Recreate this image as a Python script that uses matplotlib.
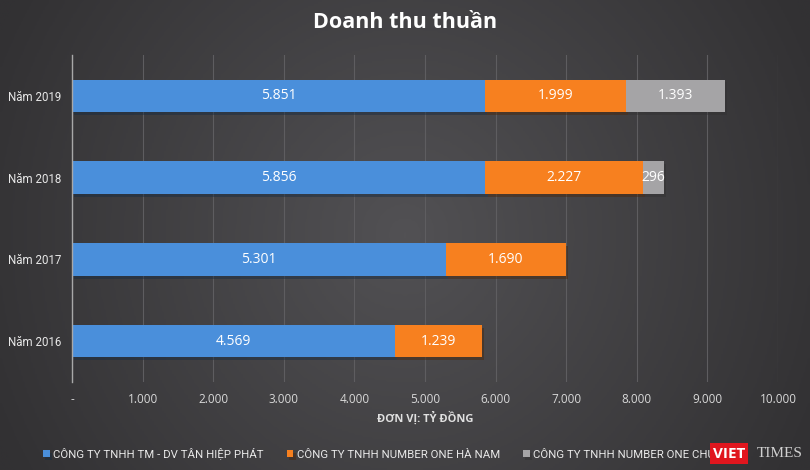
import numpy as np
import matplotlib
matplotlib.use("Agg")
import matplotlib.pyplot as plt
import matplotlib.patheffects as pe

years = ["Năm 2016", "Năm 2017", "Năm 2018", "Năm 2019"]
tan_hiep_phat = [4569, 5301, 5856, 5851]
ha_nam = [1239, 1690, 2227, 1999]
chu_lai = [0, 0, 296, 1393]
series_names = ["CÔNG TY TNHH TM - DV TÂN HIỆP PHÁT",
                "CÔNG TY TNHH NUMBER ONE HÀ NAM",
                "CÔNG TY TNHH NUMBER ONE CHU LAI"]
colors = ["#4a8fdb", "#f7801f", "#a5a4a6"]
xticks = list(range(0, 10001, 1000))
xticklabels = ["-"] + ["{:,}".format(v).replace(",", ".") for v in xticks[1:]]

plt.rcParams['font.family'] = ['Open Sans', 'DejaVu Sans']

fig = plt.figure(figsize=(8.1, 4.7), dpi=100)

# background gradient
bg = fig.add_axes([0, 0, 1, 1], zorder=-10)
xx = np.linspace(-1, 1, 400)
yy = np.linspace(-1, 1, 240)
X, Y = np.meshgrid(xx, yy)
g = 1 - np.clip(np.sqrt((X * 0.9) ** 2 + (Y * 0.5) ** 2), 0, 1)
bg.imshow(g, cmap=matplotlib.colors.LinearSegmentedColormap.from_list(
    "bg", ["#323133", "#525154"]), aspect="auto", extent=[0, 1, 0, 1])
bg.axis("off")

ax = fig.add_axes([72 / 810, 1 - 382 / 470, 706 / 810, 327 / 470])
ax.patch.set_alpha(0)
y = np.arange(len(years))
h = 0.4
shadow = [pe.SimplePatchShadow(offset=(1.5, -2), alpha=0.45), pe.Normal()]

left = np.zeros(len(years))
for vals, col, name in zip([tan_hiep_phat, ha_nam, chu_lai], colors, series_names):
    vals = np.array(vals)
    ax.barh(y, vals, height=h, left=left, color=col, label=name,
            zorder=3, path_effects=shadow)
    for yi, v, l in zip(y, vals, left):
        if v > 0:
            ax.text(l + v / 2, yi, "{:,}".format(v).replace(",", "."),
                    ha="center", va="center", color="white", fontsize=10,
                    zorder=5)
    left = left + vals

ax.set_xlim(0, 10000)
ax.set_ylim(-0.5, len(years) - 0.5)
ax.set_xticks(xticks)
ax.set_xticklabels(xticklabels, color="#d8d8d8", fontsize=8.5)
ax.set_yticks(y)
ax.set_yticklabels(years, color="#e8e8e8", fontsize=8.3, family=['Roboto', 'DejaVu Sans'])
ax.tick_params(length=0, pad=8)
ax.tick_params(axis="y", pad=8)
ax.grid(axis="x", color="#5e5d60", linewidth=0.8, zorder=0)
for s in ["top", "right", "bottom"]:
    ax.spines[s].set_visible(False)
ax.spines["left"].set_color("#a8a8a8")
ax.spines["left"].set_linewidth(1)
ax.spines["left"].set_zorder(4)
ax.set_xlabel("ĐƠN VỊ: TỶ ĐỒNG", color="#e0e0e0", fontsize=8,
              fontweight="bold", labelpad=4)

fig.text(0.5, 0.953, "Doanh thu thuần", ha="center", va="center",
         color="white", fontsize=15.5, fontweight="bold")

handles, labels = ax.get_legend_handles_labels()
leg = fig.legend(handles, labels, loc="center", bbox_to_anchor=(0.48, 0.035),
                 ncol=3, frameon=False, handlelength=0.6,
                 handleheight=0.6, handletextpad=0.3, columnspacing=2.0,
                 prop={"family": ['Roboto', 'DejaVu Sans'], "size": 8.2})
for t in leg.get_texts():
    t.set_color("#e8e8e8")

# watermark
fig.text(0.9, 0.035, "VIET", ha="center", va="center", color="white",
         fontsize=11, fontweight="bold", zorder=10,
         bbox=dict(boxstyle="square,pad=0.2", fc="#e0161e", ec="none"))
fig.text(0.963, 0.035, "TIMES", ha="center", va="center", color="#d0d0d0",
         fontsize=11, family=['Liberation Serif', 'DejaVu Serif'], zorder=10)

fig.savefig("out.png", dpi=100)
